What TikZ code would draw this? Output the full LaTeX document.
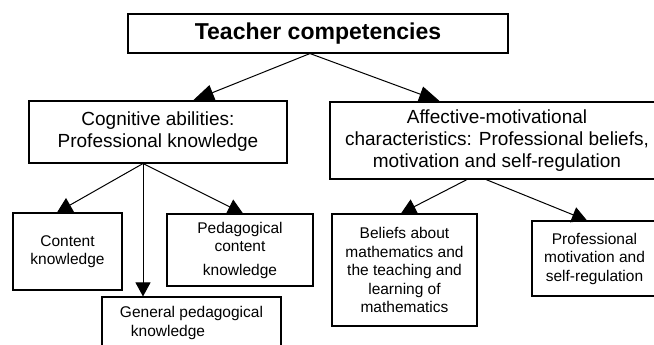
\documentclass[tikz,border=0pt]{standalone}
\usepackage{fontspec}
\setmainfont{Liberation Sans}
\usetikzlibrary{arrows.meta}

\begin{document}
\begin{tikzpicture}[x=1pt, y=-1pt, >={Triangle[length=15pt, width=16pt]},
    box/.style={draw, line width=1.1pt, fill=white, inner sep=0pt, align=center},
    small/.style={font=\fontsize{15.5}{18.5}\selectfont},
    big/.style={font=\fontsize{19}{22}\selectfont},
    link/.style={->, line width=1pt}]
        \useasboundingbox (0, 0) rectangle (654, 345);
        \node[box, minimum width=380pt, minimum height=39pt, font=\fontsize{23}{27}\selectfont\bfseries]
          (TC) at (318, 33.5) {Teacher competencies};
        % Second level
        \node[box, big, minimum width=258pt, minimum height=62pt]
          (COG) at (158, 132) {Cognitive abilities:\\Professional knowledge};
        \node[box, big, minimum width=334pt, minimum height=77pt]
          (AFF) at (497, 140.5) {Affective-motivational\\characteristics: Professional beliefs,\\motivation and self-regulation};
        % Knowledge facets
        \node[box, small, minimum width=109pt, minimum height=77pt]
          (CK) at (67.5, 251.5) {Content\\knowledge};
        \node[box, small, minimum width=146pt, minimum height=72pt]
          (PCK) at (240, 250) {Pedagogical\\content\\[5pt]knowledge};
        \node[box, small, align=left, minimum width=179pt, minimum height=52pt]
          (GPK) at (191.5, 323) {General pedagogical\\\hspace{11pt}knowledge};
        % Beliefs and motivation
        \node[box, small, minimum width=145pt, minimum height=112pt]
          (BEL) at (404.5, 270) {Beliefs about\\mathematics and\\the teaching and\\learning of\\mathematics};
        \node[box, small, minimum width=125pt, minimum height=75pt]
          (PMS) at (594.5, 258.5) {Professional\\motivation and\\self-regulation};
        % Top level links (larger heads)
        \draw[link, >={Triangle[length=21pt, width=16pt]}] ([xshift=-8pt]TC.south) -- ([xshift=35pt]COG.north);
        \draw[link, >={Triangle[length=21pt, width=16pt]}] ([xshift=-8pt]TC.south) -- ([xshift=-57pt]AFF.north);
        % Cognitive branch
        \draw[link] ([xshift=-15pt]COG.south) -- ([xshift=-10.5pt]CK.north);
        \draw[link, >={Triangle[length=14pt, width=15pt]}] ([xshift=-15pt]COG.south) -- ([xshift=-48.5pt]GPK.north);
        \draw[link] ([xshift=-15pt]COG.south) -- ([xshift=3pt]PCK.north);
        % Affective branch
        \draw[link] ([xshift=-30pt]AFF.south) -- ([xshift=-3.5pt]BEL.north);
        \draw[link] ([xshift=-11pt]AFF.south) -- ([xshift=-7.5pt]PMS.north);
\end{tikzpicture}
\end{document}
